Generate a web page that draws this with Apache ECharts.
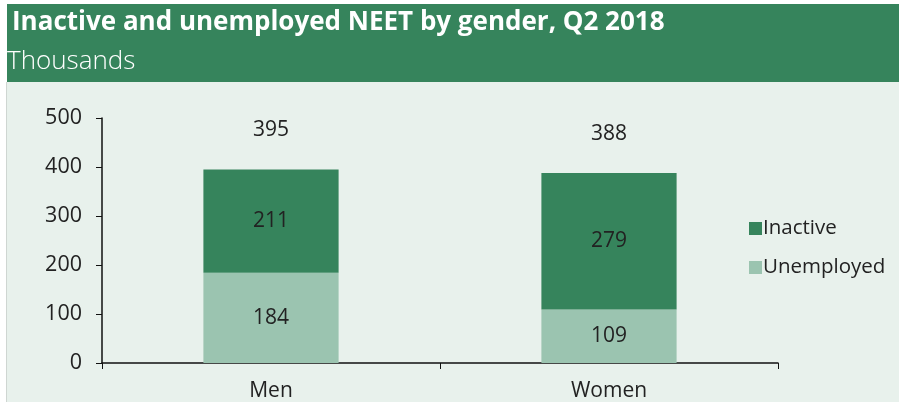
<!DOCTYPE html>
<html>
<head>
<meta charset="utf-8">
<script src="https://cdn.jsdelivr.net/npm/echarts@6/dist/echarts.min.js"></script>
<style>
  html, body { margin: 0; padding: 0; background: #fff; }
  #chart { width: 899px; height: 402px; }
</style>
</head>
<body>
<div id="chart"></div>
<script>
const categories = ['Men', 'Women'];
const unemployed = [184, 109];
const inactive = [211, 279];
const totals = [395, 388];
const yTicks = [0, 100, 200, 300, 400, 500];

const dark = '#36845c';
const light = '#9bc4b0';
const font = '"Open Sans", "DejaVu Sans", sans-serif';

const chart = echarts.init(document.getElementById('chart'));

const option = {
    animation: false,
    backgroundColor: '#fff',
    textStyle: { fontFamily: font },
    graphic: [
        { type: 'rect', shape: { x: 6, y: 82, width: 893, height: 320 }, style: { fill: '#e8f1ec' }, z: -10 },
        { type: 'rect', shape: { x: 6, y: 82, width: 1, height: 320 }, style: { fill: '#cfd6d2' }, z: -9 },
        { type: 'rect', shape: { x: 7, y: 4, width: 892, height: 78 }, style: { fill: '#36845c' }, z: -9 },
        { type: 'text', x: 12, y: 10, style: { text: 'Inactive and unemployed NEET by gender, Q2 2018', fill: '#fff', font: 'bold 26px ' + font } },
        { type: 'text', x: 7, y: 49, style: { text: 'Thousands', fill: '#fff', font: '300 26px ' + font } }
    ],
    legend: {
        orient: 'vertical',
        left: 744,
        top: 213,
        itemWidth: 13,
        itemHeight: 13,
        itemGap: 18,
        icon: 'rect',
        data: ['Inactive', 'Unemployed'],
        textStyle: { fontSize: 20.5, color: '#222', fontFamily: font, padding: [0, 0, 0, -4] }
    },
    grid: { left: 102, right: 121, top: 118, bottom: 36 },
    xAxis: {
        type: 'category',
        data: categories,
        axisLine: { lineStyle: { color: '#111', width: 1.5 } },
        axisTick: { show: true, length: 6, inside: false, lineStyle: { color: '#111' } },
        axisLabel: { fontSize: 21, color: '#222', margin: 18 }
    },
    yAxis: {
        type: 'value',
        min: yTicks[0],
        max: yTicks[yTicks.length - 1],
        interval: 100,
        splitLine: { show: false },
        axisLine: { show: true, lineStyle: { color: '#111', width: 1.5 } },
        axisTick: { show: true, length: 6, lineStyle: { color: '#111' } },
        axisLabel: { fontSize: 21.5, color: '#222', margin: 20 }
    },
    series: [
        {
            name: 'Unemployed',
            type: 'bar',
            stack: 'neet',
            barWidth: '40%',
            data: unemployed,
            itemStyle: { color: light },
            label: { show: true, position: 'inside', fontSize: 21, color: '#222' }
        },
        {
            name: 'Inactive',
            type: 'bar',
            stack: 'neet',
            barWidth: '40%',
            data: inactive,
            itemStyle: { color: dark },
            label: { show: true, position: 'inside', fontSize: 21, color: '#222' }
        },
        {
            name: 'Total',
            type: 'scatter',
            data: totals,
            symbolSize: 1,
            itemStyle: { color: 'rgba(0,0,0,0)', opacity: 1 },
            label: { show: true, position: 'top', distance: 28, fontSize: 21, color: '#222', opacity: 1 }
        }
    ]
};

chart.setOption(option);
</script>
</body>
</html>
